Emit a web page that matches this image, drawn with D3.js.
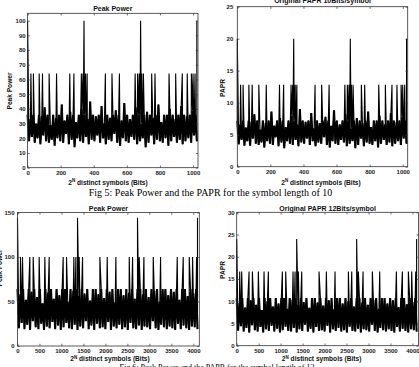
<!DOCTYPE html>
<html>
<head>
<meta charset="utf-8">
<script src="https://cdn.jsdelivr.net/npm/d3@7"></script>
<style>
  html, body { margin: 0; padding: 0; background: #fff; overflow: hidden; }
  svg { display: block; }
  .tick text { font-family: "Liberation Sans", Arial, sans-serif; font-weight: bold; font-size: 6px; fill: #222; }
  .lbl { font-family: "Liberation Sans", Arial, sans-serif; font-weight: bold; font-size: 6.6px; fill: #111; }
  .ttl { font-family: "Liberation Sans", Arial, sans-serif; font-weight: bold; font-size: 7px; fill: #111; }
  .cap { font-family: "Liberation Serif", "Times New Roman", serif; fill: #000; }
</style>
</head>
<body>
<div id="graph"></div>
<script>
// symbol indices whose peak power hits the second level (64 for N=10, 100 for N=12)
var spikes10 = [20, 35, 70, 90, 130, 175, 255, 280, 325, 335, 350, 360, 470, 510, 555, 650, 665, 675, 690, 700, 750, 770, 855, 895, 935, 965, 990, 1000, 1012];
var maxes10 = [0, 341, 683, 1023];
var spikes12 = [68, 114, 281, 357, 493, 622, 721, 1039, 1115, 1282, 1328, 1404, 1480, 1874, 2041, 2238, 2542, 2618, 2769, 2876, 3088, 3255, 3634, 3771, 3907, 3983, 4074];
var maxes12 = [0, 1365, 2730, 4095];

// spike levels
var peak10Levels = [64, 100];
var papr10Levels = [12.8, 20];
var peak12Levels = [100, 144];
var papr12Levels = [16.7, 24];

// the dense band under the spikes, read left to right
var peak10 = [
  36,18,33,21,36,17,30,20,36,16, 35,22,41,18,36,17,29,19,36,15,
  34,20,36,18,43,17,32,23,36,16, 38,19,36,14,31,20,36,18,40,17,
  36,21,33,16,45,19,36,18,35,22, 36,17,42,20,30,16,36,19,34,18,
  36,23,39,17,36,15,32,20,44,18, 36,17,33,21,36,19,41,16,36,18,
  30,20,36,14,38,17,36,22,34,16, 36,19,43,18,31,17,36,20,36,15,
  40,18,36,21,33,17,36,19,42,16, 36,18,35,20,36,17,39,22,36,18
];
var papr10 = [
  7.2,3.5,6.6,4.2,7.2,3.3,6.1,4.0,7.2,3.3, 7.0,4.4,8.2,3.6,7.2,3.4,5.8,3.8,7.2,3.0,
  6.8,4.0,7.2,3.6,8.6,3.4,6.4,4.6,7.2,3.2, 7.6,3.8,7.2,2.9,6.2,4.0,7.2,3.6,8.0,3.4,
  7.2,4.2,6.6,3.2,9.0,3.8,7.2,3.6,7.0,4.4, 7.2,3.4,8.4,4.0,6.0,3.2,7.2,3.8,6.8,3.6,
  7.2,4.6,7.8,3.4,7.2,3.0,6.4,4.0,8.8,3.6, 7.2,3.4,6.6,4.2,7.2,3.8,8.2,3.2,7.2,3.6,
  6.0,4.0,7.2,2.9,7.6,3.4,7.2,4.4,6.8,3.2, 7.2,3.8,8.6,3.6,6.2,3.4,7.2,4.0,7.2,3.0,
  8.0,3.6,7.2,4.2,6.6,3.4,7.2,3.8,8.4,3.2, 7.2,3.6,7.0,4.0,7.2,3.4,7.8,4.4,7.2,3.6
];
var peak12 = [
  64,20,58,26,64,19,52,24,64,18, 61,28,64,21,55,19,64,25,48,18,
  64,22,60,20,64,27,53,19,64,23, 57,18,64,21,64,26,50,20,64,19,
  62,24,64,18,56,22,64,20,59,28, 64,19,51,23,64,18,64,25,58,20,
  64,21,54,19,64,27,61,18,64,22, 49,20,64,24,64,19,57,21,64,18,
  60,26,64,20,53,19,64,23,64,18, 58,22,64,21,55,19,64,28,62,20,
  64,18,50,24,64,21,64,19,57,22, 64,20,61,18,64,25,52,19,64,23,
  64,20,56,18,64,22,59,21,64,19
];
var papr12 = [
  10.7,3.4,9.6,4.4,10.7,3.2,8.6,4.0,10.7,3.0, 10.2,4.6,10.7,3.5,9.2,3.2,10.7,4.2,8.0,3.0,
  10.7,3.7,10.0,3.3,10.7,4.5,8.8,3.2,10.7,3.8, 9.5,3.0,10.7,3.5,10.7,4.3,8.3,3.3,10.7,3.2,
  10.3,4.0,10.7,3.0,9.3,3.7,10.7,3.3,9.8,4.7, 10.7,3.2,8.5,3.8,10.7,3.0,10.7,4.2,9.7,3.3,
  10.7,3.5,9.0,3.2,10.7,4.5,10.2,3.0,10.7,3.7, 8.2,3.3,10.7,4.0,10.7,3.2,9.5,3.5,10.7,3.0,
  10.0,4.3,10.7,3.3,8.8,3.2,10.7,3.8,10.7,3.0, 9.7,3.7,10.7,3.5,9.2,3.2,10.7,4.7,10.3,3.3,
  10.7,3.0,8.3,4.0,10.7,3.5,10.7,3.2,9.5,3.7, 10.7,3.3,10.2,3.0,10.7,4.2,8.7,3.2,10.7,3.8,
  10.7,3.3,9.3,3.0,10.7,3.7,9.8,3.5,10.7,3.2
];

// tick values
var xTicks10 = [0, 200, 400, 600, 800, 1000];
var xTicks12 = [0, 500, 1000, 1500, 2000, 2500, 3000, 3500, 4000];
var yTicksPeak10 = [0, 10, 20, 30, 40, 50, 60, 70, 80, 90, 100];
var yTicksPapr10 = [0, 5, 10, 15, 20, 25];
var yTicksPeak12 = [0, 50, 100, 150];
var yTicksPapr12 = [0, 5, 10, 15, 20, 25, 30];

var W = 419, H = 367;
var vis = d3.select("#graph").append("svg").attr("width", W).attr("height", H);

var panels = [
  {band: peak10, spikes: spikes10, maxes: maxes10, levels: peak10Levels, nmax: 1023,
   l: 27.6, r: 198, t: 13.3, b: 167.7, xmax: 1030, ymax: 105, xt: xTicks10, yt: yTicksPeak10, ypad: 2,
   title: "Peak Power", ty: 10.6, ylab: "Peak Power", ylx: 10, yly: 91, xlx: 108, xly: 184.6},
  {band: papr10, spikes: spikes10, maxes: maxes10, levels: papr10Levels, nmax: 1023,
   l: 237.3, r: 407.7, t: 6.7, b: 166.7, xmax: 1030, ymax: 25, xt: xTicks10, yt: yTicksPapr10, ypad: 4,
   title: "Original PAPR 10Bits/symbol", ty: 3.4, ylab: "PAPR", ylx: 223, yly: 88, xlx: 321, xly: 184.6},
  {band: peak12, spikes: spikes12, maxes: maxes12, levels: peak12Levels, nmax: 4095,
   l: 17.5, r: 199.3, t: 212.5, b: 346, xmax: 4136, ymax: 150, xt: xTicks12, yt: yTicksPeak12, ypad: 3,
   title: "Peak Power", ty: 211, ylab: "Peak Power", ylx: 0, yly: 268, xlx: 110, xly: 361.3},
  {band: papr12, spikes: spikes12, maxes: maxes12, levels: papr12Levels, nmax: 4095,
   l: 236.7, r: 418.6, t: 212.3, b: 345.7, xmax: 4140, ymax: 30, xt: xTicks12, yt: yTicksPapr12, ypad: 2,
   title: "Original PAPR 12Bits/symbol", ty: 210.8, ylab: "PAPR", ylx: 223, yly: 270, xlx: 321.6, xly: 361.3}
];

function drawPanel(p) {
  var x = d3.scaleLinear().domain([0, p.xmax]).range([p.l, p.r]);
  var y = d3.scaleLinear().domain([0, p.ymax]).range([p.b, p.t]);
  var g = vis.append("g");

  // band points spread evenly over all symbols, spikes slotted in by index
  var step = p.nmax / (p.band.length - 1);
  var bandPts = p.band.map(function(v, i) { return {x: i * step, y: v}; });
  var pts = bandPts.slice();
  p.spikes.forEach(function(s) { pts.push({x: s, y: p.levels[0]}); });
  p.maxes.forEach(function(s) { pts.push({x: s, y: p.levels[1]}); });
  pts.sort(function(a, b) { return a.x - b.x; });

  var line = d3.line().x(function(d) { return x(d.x); }).y(function(d) { return y(d.y); });
  // thick pass so the 2^N samples read as a solid band
  g.append("path").datum(bandPts)
    .attr("d", line)
    .attr("fill", "none")
    .attr("stroke", "#000")
    .attr("stroke-width", 2.1);
  g.append("path").datum(pts)
    .attr("d", line)
    .attr("fill", "none")
    .attr("stroke", "#000")
    .attr("stroke-width", 1.1)
    .attr("stroke-linejoin", "miter");

  // box with inward ticks on all sides
  g.append("rect").attr("x", p.l).attr("y", p.t).attr("width", p.r - p.l).attr("height", p.b - p.t)
    .attr("fill", "none").attr("stroke", "#333").attr("stroke-width", 0.8);

  var ax = g.append("g").attr("transform", "translate(0," + p.b + ")")
    .call(d3.axisBottom(x).tickValues(p.xt).tickSize(-2.2).tickSizeOuter(0).tickPadding(3).tickFormat(d3.format("d")));
  var axTop = g.append("g").attr("transform", "translate(0," + p.t + ")")
    .call(d3.axisTop(x).tickValues(p.xt).tickSize(-2.2).tickSizeOuter(0).tickFormat(""));
  var ay = g.append("g").attr("transform", "translate(" + p.l + ",0)")
    .call(d3.axisLeft(y).tickValues(p.yt).tickSize(-2.2).tickSizeOuter(0).tickPadding(p.ypad).tickFormat(d3.format("d")));
  var ayR = g.append("g").attr("transform", "translate(" + p.r + ",0)")
    .call(d3.axisRight(y).tickValues(p.yt).tickSize(-2.2).tickSizeOuter(0).tickFormat(""));
  [ax, axTop, ay, ayR].forEach(function(a) {
    a.select(".domain").remove();
    a.selectAll("line").attr("stroke", "#333").attr("stroke-width", 0.7);
    a.attr("font-family", null).attr("font-size", null);
  });

  g.append("text").attr("class", "ttl").attr("x", (p.l + p.r) / 2).attr("y", p.ty)
    .attr("text-anchor", "middle").text(p.title);
  g.append("text").attr("class", "lbl").attr("text-anchor", "middle")
    .attr("transform", "translate(" + p.ylx + "," + p.yly + ") rotate(-90)")
    .attr("dy", "0.35em").text(p.ylab);

  var xl = g.append("text").attr("class", "lbl").attr("x", p.xlx).attr("y", p.xly).attr("text-anchor", "middle");
  xl.append("tspan").text("2");
  xl.append("tspan").attr("dy", -2.4).attr("font-size", "4.5px").text("N");
  xl.append("tspan").attr("dy", 2.4).text(" distinct symbols  (Bits)");
}

panels.forEach(drawPanel);

vis.append("text").attr("class", "cap").attr("x", 210.5).attr("y", 195.6)
  .attr("text-anchor", "middle").attr("font-size", "10px")
  .text("Fig 5: Peak Power and the PAPR for the symbol length of 10");
vis.append("text").attr("class", "cap").attr("x", 217).attr("y", 369.5)
  .attr("text-anchor", "middle").attr("font-size", "8px")
  .text("Fig 6: Peak Power and the PAPR for the symbol length of 12");
</script>
</body>
</html>
